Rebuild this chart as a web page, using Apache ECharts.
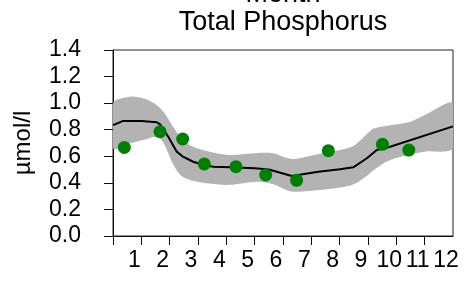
<!DOCTYPE html>
<html>
<head>
<meta charset="utf-8">
<script src="https://cdn.jsdelivr.net/npm/echarts@6/dist/echarts.min.js"></script>
<style>html,body{margin:0;padding:0;background:#fff;}#c{width:465px;height:284px;}</style>
</head>
<body>
<div id="c"></div>
<script>
var titleLines = ['Month', 'Total Phosphorus'];
var yName = 'µmol/l';
var yTicks = [0, 0.2, 0.4, 0.6, 0.8, 1.0, 1.2, 1.4];
var xTickLabels = ['', '1', '2', '3', '4', '5', '6', '7', '8', '9', '10', '11', '12'];
var xTickMarks = [0, 1, 2, 3, 4, 5, 6, 7, 8, 9, 10, 11];

// model line (x in months, y in µmol/l)
var lineX = [0, 0.36, 1.0, 1.55, 1.66, 1.95, 2.25, 2.45, 2.83, 3.19, 3.54, 4.13, 5.0, 5.5, 6.31, 7.25, 8.01, 8.48, 8.96, 9.31, 9.78, 12];
var lineY = [0.835, 0.866, 0.865, 0.856, 0.84, 0.747, 0.635, 0.600, 0.559, 0.534, 0.522, 0.517, 0.51, 0.50, 0.452, 0.484, 0.502, 0.517, 0.585, 0.647, 0.672, 0.825];

// uncertainty band
var bandX = [0, 0.6, 1.1, 1.55, 1.8, 2.1, 2.4, 2.75, 3.3, 4.1, 5.1, 5.65, 6.3, 7.3, 8.0, 8.5, 9.0, 9.2, 9.7, 10.5, 11.0, 12];
var bandUpper = [1.0, 1.049, 1.035, 0.985, 0.93, 0.83, 0.74, 0.68, 0.64, 0.61, 0.625, 0.622, 0.58, 0.62, 0.647, 0.68, 0.775, 0.81, 0.83, 0.86, 0.91, 1.0];
var bandLower = [0.66, 0.698, 0.725, 0.747, 0.695, 0.55, 0.455, 0.42, 0.397, 0.385, 0.409, 0.39, 0.335, 0.346, 0.365, 0.39, 0.46, 0.497, 0.565, 0.615, 0.635, 0.66];

// observations
var obsX = [0.40, 1.66, 2.46, 3.22, 4.34, 5.39, 6.48, 7.60, 9.51, 10.44];
var obsY = [0.667, 0.785, 0.730, 0.542, 0.522, 0.459, 0.419, 0.642, 0.690, 0.647];

var FONT = 'Liberation Sans, Arial, Helvetica, sans-serif';
var chart = echarts.init(document.getElementById('c'), null, {renderer: 'canvas'});

var lineData = lineX.map(function (x, i) { return [x, lineY[i]]; });
var obsData = obsX.map(function (x, i) { return [x, obsY[i]]; });

chart.setOption({
  animation: false,
  backgroundColor: '#fff',
  graphic: [{
    type: 'text',
    x: 283, y: 9,
    silent: true,
    style: {
      text: titleLines.join('\n'),
      align: 'center', verticalAlign: 'middle',
      font: 'normal 27px ' + FONT,
      lineHeight: 28,
      fill: '#000'
    }
  }],
  grid: {left: 113, right: 12, top: 50, bottom: 48, show: true, borderColor: '#222', borderWidth: 1, backgroundColor: 'transparent'},
  xAxis: {
    type: 'value', min: 0, max: 12, interval: 1,
    splitLine: {show: false},
    axisLine: {show: true, lineStyle: {color: '#111', width: 1}},
    axisTick: {show: true, length: 9, customValues: xTickMarks, lineStyle: {color: '#111', width: 1}},
    axisLabel: {
      margin: 13, fontFamily: FONT, fontSize: 23, color: '#000',
      padding: [0, 14, 0, 0],
      formatter: function (v) { return xTickLabels[Math.round(v)] || ''; }
    }
  },
  yAxis: {
    type: 'value', min: yTicks[0], max: yTicks[yTicks.length - 1], interval: 0.2,
    splitLine: {show: false},
    axisLine: {show: true, lineStyle: {color: '#111', width: 1}},
    axisTick: {show: true, length: 9, lineStyle: {color: '#111', width: 1}},
    axisLabel: {
      margin: 32, fontFamily: FONT, fontSize: 23, color: '#000',
      formatter: function (v) { return v.toFixed(1); }
    },
    name: yName, nameLocation: 'middle', nameGap: 78, nameRotate: 90,
    nameTextStyle: {fontFamily: FONT, fontSize: 24, color: '#000'}
  },
  series: [
    {
      type: 'custom',
      data: [0],
      silent: true,
      clip: true,
      z: 1,
      renderItem: function (params, api) {
        var up = [], lo = [];
        for (var i = 0; i < bandX.length; i++) {
          up.push(api.coord([bandX[i], bandUpper[i]]));
          lo.push(api.coord([bandX[i], bandLower[i]]));
        }
        var pts = up.concat(lo.reverse());
        return {
          type: 'polygon',
          shape: {points: pts, smooth: 0.3},
          style: {fill: '#b3b3b3', stroke: null}
        };
      }
    },
    {
      type: 'line',
      data: lineData,
      showSymbol: false,
      symbol: 'none',
      z: 2,
      lineStyle: {color: '#000', width: 2}
    },
    {
      type: 'scatter',
      data: obsData,
      symbol: 'circle',
      symbolSize: 13,
      z: 3,
      itemStyle: {color: '#008000', opacity: 1}
    }
  ]
});
</script>
</body>
</html>
